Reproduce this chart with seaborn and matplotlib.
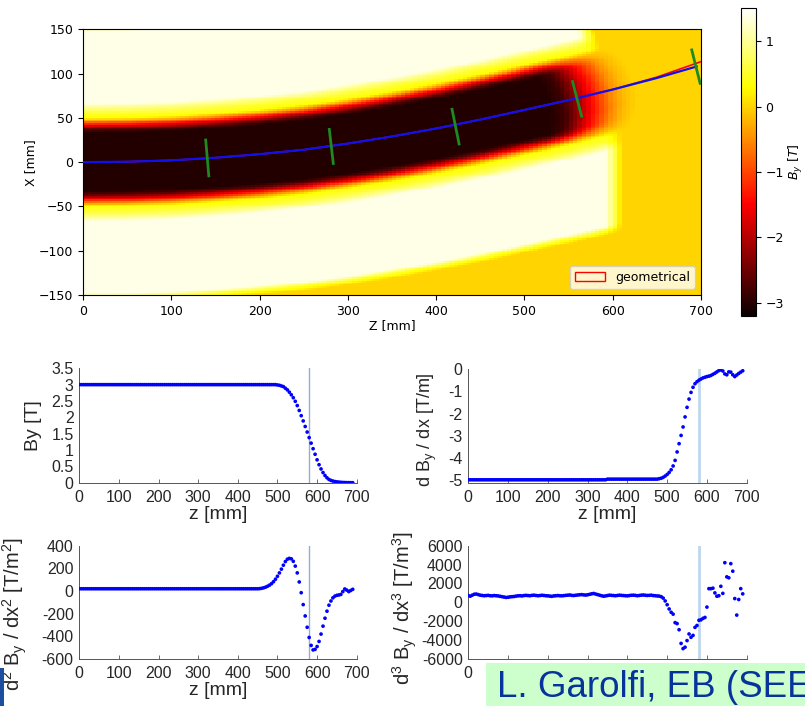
import numpy as np
import pandas as pd
import matplotlib
matplotlib.use("Agg")
import matplotlib.pyplot as plt
from matplotlib.patches import Patch, Rectangle
import seaborn as sns

# ---------------- dipole field map (top panel) ----------------
# design ("geometrical") orbit and tracked orbit, z and x in mm
geo_z = [0, 50, 100, 150, 200, 250, 300, 350, 400, 450, 500, 550, 600, 650, 700]
geo_x = [0, 0.5, 2, 5, 9, 14, 21, 29, 38, 48, 59, 70, 82, 96, 113.5]
traj_z = [0, 50, 100, 150, 200, 250, 300, 350, 400, 450, 500, 550, 600, 650, 695]
traj_x = [0, 0.5, 2, 5, 9, 14, 21, 29, 38, 48, 59, 70, 82, 95, 108]

# transverse cuts along the orbit (start and end points)
cut_z0 = [139.0, 279.0, 418.0, 554.5, 689.5]
cut_x0 = [25.0, 37.0, 59.7, 91.0, 126.7]
cut_z1 = [142.5, 283.5, 426.0, 564.7, 699.0]
cut_x1 = [-15.5, -1.5, 20.5, 52.0, 89.0]

# By across the gap (distance from the orbit, mm): main field and return field
core_d = [0, 33, 37, 40, 43, 46, 50, 56]
core_T = [-3.02, -3.02, -2.6, -1.9, -1.2, -0.6, -0.15, 0.0]
ret_d = [0, 44, 50, 56, 61, 66, 148, 153, 158, 300]
ret_T = [0.0, 0.0, 0.45, 0.55, 0.9, 1.38, 1.38, 0.5, 0.0, 0.0]
# fall-off of the main field at the pole end, along the orbit
map_s = [0, 530, 545, 558, 572, 586, 598, 610, 625, 800]
map_f = [1.0, 1.0, 0.93, 0.75, 0.52, 0.32, 0.16, 0.06, 0.0, 0.0]
# rounding of the pole end: earlier fall-off away from the orbit
round_d = [0, 20, 35, 50, 300]
round_ds = [0, 3, 10, 18, 18]
# end of the return yoke (outer side is cut back further than the inner side)
ret_s = [0, 592, 600, 610, 800]
ret_f = [1.0, 1.0, 0.6, 0.0, 0.0]
yoke_tilt_outer = 1.8
yoke_tilt_inner = 0.0

# ---------------- longitudinal profiles (bottom panels) ----------------
z_mm = np.arange(0, 695, 5)

by_T = [
    3.0, 3.0, 3.0, 3.0, 3.0, 3.0, 3.0, 3.0, 3.0, 3.0,
    3.0, 3.0, 3.0, 3.0, 3.0, 3.0, 3.0, 3.0, 3.0, 3.0,
    3.0, 3.0, 3.0, 3.0, 3.0, 3.0, 3.0, 3.0, 3.0, 3.0,
    3.0, 3.0, 3.0, 3.0, 3.0, 3.0, 3.0, 3.0, 3.0, 3.0,
    3.0, 3.0, 3.0, 3.0, 3.0, 3.0, 3.0, 3.0, 3.0, 3.0,
    3.0, 3.0, 3.0, 3.0, 3.0, 3.0, 3.0, 3.0, 3.0, 3.0,
    3.0, 3.0, 3.0, 3.0, 3.0, 3.0, 3.0, 3.0, 3.0, 3.0,
    3.0, 3.0, 3.0, 3.0, 3.0, 3.0, 3.0, 3.0, 3.0, 3.0,
    3.0, 3.0, 3.0, 3.0, 3.0, 3.0, 3.0, 3.0, 3.0, 3.0,
    3.0, 3.0, 3.0, 3.0, 3.0, 3.0, 3.0, 3.0, 3.0, 3.0,
    2.99, 2.98, 2.96, 2.94, 2.89, 2.84, 2.77, 2.69, 2.60, 2.49,
    2.36, 2.21, 2.05, 1.89, 1.72, 1.55, 1.38, 1.21, 1.04, 0.87,
    0.70, 0.55, 0.42, 0.31, 0.22, 0.15, 0.10, 0.07, 0.05, 0.035,
    0.025, 0.018, 0.012, 0.008, 0.005, 0.003, 0.002, 0.001, 0.0,
]

grad_Tm = [
    -4.97, -4.97, -4.97, -4.97, -4.97, -4.97, -4.97, -4.97, -4.97, -4.97,
    -4.97, -4.97, -4.97, -4.97, -4.97, -4.97, -4.97, -4.97, -4.97, -4.97,
    -4.97, -4.97, -4.97, -4.97, -4.97, -4.97, -4.97, -4.97, -4.97, -4.97,
    -4.97, -4.97, -4.97, -4.97, -4.97, -4.97, -4.97, -4.97, -4.97, -4.97,
    -4.97, -4.97, -4.97, -4.97, -4.97, -4.97, -4.97, -4.97, -4.97, -4.97,
    -4.97, -4.97, -4.97, -4.97, -4.97, -4.97, -4.97, -4.97, -4.97, -4.97,
    -4.97, -4.97, -4.97, -4.97, -4.97, -4.97, -4.97, -4.97, -4.97, -4.97,
    -4.94, -4.94, -4.94, -4.94, -4.94, -4.94, -4.94, -4.94, -4.94, -4.94,
    -4.94, -4.94, -4.94, -4.94, -4.94, -4.94, -4.94, -4.94, -4.94, -4.94,
    -4.94, -4.94, -4.94, -4.94, -4.94, -4.94,
    -4.92, -4.90, -4.86, -4.80, -4.73, -4.64, -4.52, -4.35, -4.10, -3.72,
    -3.35, -2.98, -2.60, -2.15, -1.72, -1.35, -1.05, -0.82, -0.66, -0.57,
    -0.50, -0.45, -0.40, -0.37, -0.34, -0.32, -0.29, -0.24, -0.19, -0.13,
    -0.07, -0.04, -0.09, -0.22, -0.26, -0.13, -0.14, -0.26, -0.34, -0.27,
    -0.20, -0.14, -0.08,
]

sext_Tm2 = [
    20, 20, 20, 20, 20, 20, 20, 20, 20, 20,
    20, 20, 20, 20, 20, 20, 20, 20, 20, 20,
    20, 20, 20, 20, 20, 20, 20, 20, 20, 20,
    20, 20, 20, 20, 20, 20, 20, 20, 20, 20,
    20, 20, 20, 20, 20, 20, 20, 20, 20, 20,
    20, 20, 20, 20, 20, 20, 20, 20, 20, 20,
    20, 20, 20, 20, 20, 20, 20, 20, 20, 20,
    20, 20, 20, 20, 20, 20, 20, 20, 20, 20,
    20, 20, 20, 20, 20, 20, 20, 20, 20, 20,
    20,
    21, 24, 28, 34, 42, 52, 65, 82, 104, 130,
    160, 193, 228, 260, 281, 288, 284, 262, 220, 160,
    80, -15, -120, -220, -320, -410, -480, -520, -515, -490,
    -445, -380, -310, -240, -178, -125, -88, -60, -45, -38,
    -35, -30, -5, 18, 8, -5, 5, 15,
]

oct_Tm3 = [
    720, 650, 760, 860, 880, 820, 760, 730, 700, 720,
    740, 700, 690, 720, 700, 680, 640, 600, 560, 520,
    540, 580, 600, 620, 660, 690, 700, 680, 720, 740,
    720, 700, 740, 760, 730, 700, 720, 750, 730, 700,
    690, 660, 640, 680, 700, 720, 700, 690, 710, 740,
    760, 780, 740, 720, 750, 780, 800, 820, 790, 770,
    800, 850, 900, 940, 880, 820, 760, 700, 650, 680,
    720, 760, 740, 720, 700, 730, 760, 740, 720, 700,
    690, 720, 750, 760, 740, 700, 730, 760, 780, 750,
    730, 740, 760, 720, 700, 680, 660, 600,
    450, 150, -250, -700, -1050, -1250, -2150, -2250, -2900, -4350,
    -4900, -4750, -4050, -3350, -3700, -3500, -2650, -2450, -1900, -1850,
    -1700, -1600, -500, 1450, 1450, 1500, 1000, 650, 700, 1700,
    950, 4200, 2700, 2600, 4100, 3300, 400, -1350, 300, 1450,
    900,
]

z_ticks = [0, 100, 200, 300, 400, 500, 600, 700]
z_tick_labels = ["0", "100", "200", "300", "400", "500", "600", "700"]
# only the first label of the lower-right panel is left uncovered by the credit strip
z_tick_labels_covered = ["0", "", "", "", "", "", "", ""]
by_ticks = [0, 0.5, 1, 1.5, 2, 2.5, 3, 3.5]
by_tick_labels = ["0", "0.5", "1", "1.5", "2", "2.5", "3", "3.5"]
grad_ticks = [-5, -4, -3, -2, -1, 0]
grad_tick_labels = ["-5", "-4", "-3", "-2", "-1", "0"]
sext_ticks = [-600, -400, -200, 0, 200, 400]
sext_tick_labels = ["-600", "-400", "-200", "0", "200", "400"]
oct_ticks = [-6000, -4000, -2000, 0, 2000, 4000, 6000]
oct_tick_labels = ["-6000", "-4000", "-2000", "0", "2000", "4000", "6000"]

fringe_ref_z = 580

profiles = pd.DataFrame({"z": z_mm, "By": by_T, "grad": grad_Tm,
                         "sext": sext_Tm2, "oct": oct_Tm3})

# ---------------- figure ----------------
W, H = 805, 706
fig = plt.figure(figsize=(W / 100, H / 100), dpi=100)


def frect(x0, y0, x1, y1):
    """Axes rectangle from pixel corners (top-left origin)."""
    return [x0 / W, 1 - y1 / H, (x1 - x0) / W, (y1 - y0) / H]


# ---- field map ----
TOP_FS = 9
ax_map = fig.add_axes(frect(83, 29.3, 701, 295))
z_edges = np.arange(0, 705, 5)
x_edges = np.arange(-150, 152, 2)
zc = 0.5 * (z_edges[:-1] + z_edges[1:])
xc = 0.5 * (x_edges[:-1] + x_edges[1:])
Zg, Xg = np.meshgrid(zc, xc)
slope_geo = np.gradient(np.asarray(geo_x, float), np.asarray(geo_z, float))
x_orbit = np.interp(Zg, geo_z, geo_x)
m = np.interp(Zg, geo_z, slope_geo)
delta = Xg - x_orbit
dist = np.abs(delta) / np.sqrt(1 + m ** 2)
s_long = Zg + delta * m / (1 + m ** 2)
s_pole = s_long + np.interp(dist, round_d, round_ds)
tilt = np.where(delta > 0, yoke_tilt_outer, yoke_tilt_inner)
s_yoke = Zg + tilt * delta * m
main = np.interp(dist, core_d, core_T) * np.interp(s_pole, map_s, map_f)
yoke = np.interp(dist, ret_d, ret_T) * np.interp(s_yoke, ret_s, ret_f)
By_map = main + yoke

mesh = ax_map.pcolormesh(z_edges, x_edges, By_map, cmap="hot", vmin=-3.2, vmax=1.5,
                         shading="flat", rasterized=True)
sns.lineplot(x=geo_z, y=geo_x, ax=ax_map, color="red", lw=1.2, sort=False, zorder=3)
sns.lineplot(x=traj_z, y=traj_x, ax=ax_map, color="#1010ee", lw=1.6, sort=False, zorder=4)
for a, b, c, d in zip(cut_z0, cut_x0, cut_z1, cut_x1):
    ax_map.plot([a, c], [b, d], color="#1f8a1f", lw=2.0, zorder=5)
ax_map.set_xlim(0, 700)
ax_map.set_ylim(-150, 150)
ax_map.set_xticks(range(0, 701, 100))
ax_map.set_yticks(range(-150, 151, 50))
ax_map.tick_params(labelsize=TOP_FS)
ax_map.set_xlabel("Z [mm]", fontsize=TOP_FS, labelpad=1)
ax_map.set_ylabel("X [mm]", fontsize=TOP_FS, labelpad=1)
ax_map.legend(handles=[Patch(facecolor="none", edgecolor="red", label="geometrical")],
              loc="lower right", fontsize=TOP_FS, framealpha=0.8, handlelength=2.4)

cax = fig.add_axes(frect(740.7, 8.3, 755.7, 316))
cbar = fig.colorbar(mesh, cax=cax, ticks=[-3, -2, -1, 0, 1])
cbar.ax.tick_params(labelsize=TOP_FS)
cbar.set_label(r"$B_y\ [T]$", fontsize=TOP_FS, labelpad=2)

# ---- longitudinal profiles ----
SANS = "Liberation Sans"
INK = "#262626"


def profile_panel(rect, col, ylim, yticks, ylabels, ylabel, label_pos, label_fs,
                  vcolor, vwidth, xlabels=z_tick_labels, xlabel="z [mm]"):
    ax = fig.add_axes(rect)
    ax.axvline(fringe_ref_z, color=vcolor, lw=vwidth, zorder=0)
    sns.scatterplot(data=profiles, x="z", y=col, ax=ax, s=7, color="#0000ff",
                    edgecolor="none", linewidth=0, legend=False, zorder=3)
    ax.set_xlim(0, 700)
    ax.set_ylim(*ylim)
    ax.set_xticks(z_ticks, labels=xlabels, fontfamily=SANS, fontsize=11.5, color=INK)
    ax.set_yticks(yticks, labels=ylabels, fontfamily=SANS, fontsize=11.5, color=INK)
    ax.tick_params(axis="x", direction="in", length=3, width=0.6, color="#555555", pad=5)
    ax.tick_params(axis="y", length=0, pad=4)
    for side in ("top", "right"):
        ax.spines[side].set_visible(False)
    for side in ("left", "bottom"):
        ax.spines[side].set_color("#555555")
        ax.spines[side].set_linewidth(0.7)
    if xlabel:
        ax.set_xlabel(xlabel, fontfamily=SANS, fontsize=14, color=INK, labelpad=1)
    else:
        ax.set_xlabel("")
    ax.set_ylabel(ylabel, fontfamily=SANS, fontsize=label_fs, color=INK)
    ax.yaxis.set_label_coords(*label_pos)
    return ax


profile_panel(frect(79.3, 368.3, 356.7, 482.7), "By", (0, 3.5), by_ticks, by_tick_labels,
              "By [T]", (-0.135, 0.5), 14, "#8fb0d0", 1.0)
profile_panel(frect(468.3, 369, 746.7, 482.7), "grad", (-5.1, 0), grad_ticks, grad_tick_labels,
              r"d B$\mathregular{_y}$ / dx [T/m]", (-0.105, 0.47), 13, "#bcd6ee", 2.0)
profile_panel(frect(79.3, 545.7, 356.7, 659), "sext", (-600, 400), sext_ticks, sext_tick_labels,
              r"d$\mathregular{^2}$ B$\mathregular{_y}$ / dx$\mathregular{^2}$ [T/m$\mathregular{^2}$]",
              (-0.18, 0.4), 14.5, "#8fb0d0", 1.0)
profile_panel(frect(468.3, 545.7, 746.7, 659), "oct", (-6000, 6000), oct_ticks, oct_tick_labels,
              r"d$\mathregular{^3}$ B$\mathregular{_y}$ / dx$\mathregular{^3}$ [T/m$\mathregular{^3}$]",
              (-0.177, 0.45), 14.5, "#bcd6ee", 2.0,
              xlabels=z_tick_labels_covered, xlabel=None)

# ---- slide credit strip and logo edge ----
fig.add_artist(Rectangle((486 / W, 0), 1 - 486 / W, 43 / H, transform=fig.transFigure,
                         facecolor="#ccffcc", edgecolor="none", zorder=10))
fig.text(497 / W, 9 / H, "L. Garolfi, EB (SEE", fontsize=26.5, fontfamily=SANS,
         color="#07349a", va="baseline", ha="left", zorder=11, clip_on=False)
fig.add_artist(Rectangle((0, 0), 4 / W, 38 / H, transform=fig.transFigure,
                         facecolor="#1d4f9f", edgecolor="none", zorder=10))

fig.savefig("out.png", dpi=100)
